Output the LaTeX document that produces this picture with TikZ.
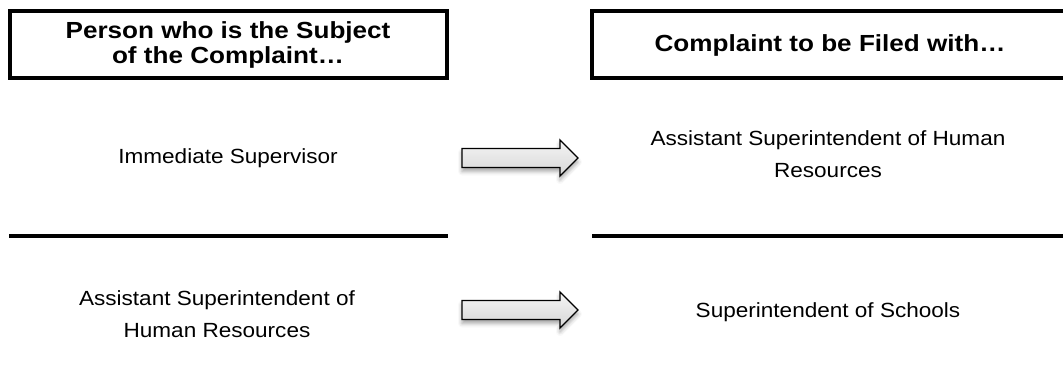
\documentclass[tikz,border=0pt]{standalone}
\usepackage{fontspec}
\setmainfont{Liberation Sans}
\newfontfamily\hdrfont{Liberation Sans}[FakeStretch=1.12]
\newfontfamily\bodyfont{Liberation Sans}[FakeStretch=1.1]
\usetikzlibrary{shadows.blur}
\begin{document}
\begin{tikzpicture}[x=1pt,y=-1pt,
  hdrbox/.style={draw=black,line width=4pt,fill=none},
  hdrtext/.style={align=center,font=\hdrfont\bfseries\fontsize{23.3}{25}\selectfont,inner sep=0pt},
  bodytext/.style={align=center,font=\bodyfont\fontsize{20.5}{32}\selectfont,inner sep=0pt},
  sepline/.style={draw=black,line width=4pt},
  arrowbox/.style={draw=black,line width=1.3pt,line join=miter,
    top color=gray!8,bottom color=gray!32,
    blur shadow={shadow xshift=0pt,shadow yshift=-4pt,shadow blur radius=4pt,shadow opacity=35}},
  pics/fatarrow/.style={code={
    \path[arrowbox] (-58,-9.5) -- (40,-9.5) -- (40,-18) -- (58,0) -- (40,18) -- (40,9.5) -- (-58,9.5) -- cycle;
  }}
]
\useasboundingbox (0,0) rectangle (1063,389);
% header boxes
\draw[hdrbox] (10,11) rectangle (447,78);
\draw[hdrbox] (592,11) rectangle (1075,78);
\node[hdrtext] (h1) at (228,44.5) {Person who is the Subject\\of the Complaint\ldots};
\node[hdrtext] (h2) at (830,45) {Complaint to be Filed with\ldots};
% row 1
\node[bodytext] (a1) at (228,158) {Immediate Supervisor};
\pic (ar1) at (520,158) {fatarrow};
\node[bodytext] (b1) at (828,154) {Assistant Superintendent of Human\\Resources};
% separator lines
\coordinate (l1s) at (9,236);
\coordinate (l1e) at (448,236);
\coordinate (l2s) at (592,236);
\coordinate (l2e) at (1075,236);
\draw[sepline] (l1s) -- (l1e);
\draw[sepline] (l2s) -- (l2e);
% row 2
\node[bodytext] (a2) at (217,314) {Assistant Superintendent of\\Human Resources};
\pic (ar2) at (520,310) {fatarrow};
\node[bodytext] (b2) at (828,312) {Superintendent of Schools};
\end{tikzpicture}
\end{document}
